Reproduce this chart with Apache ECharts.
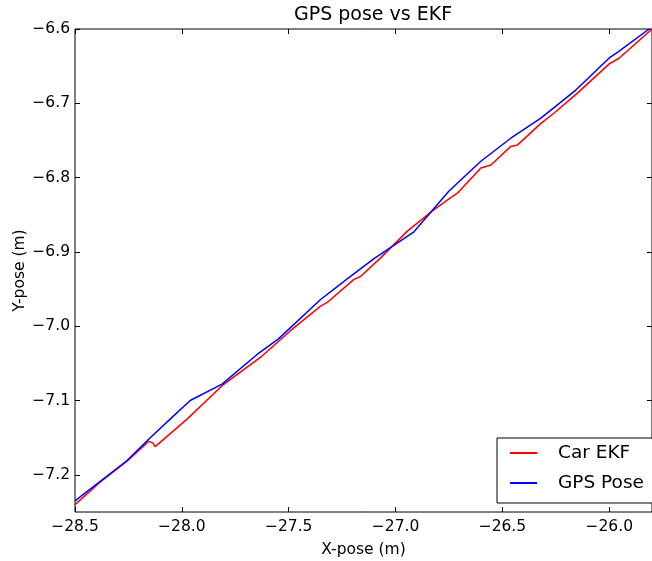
<!DOCTYPE html>
<html>
<head>
<meta charset="utf-8">
<script src="https://cdn.jsdelivr.net/npm/echarts@6/dist/echarts.min.js"></script>
<style>
  html, body { margin: 0; padding: 0; background: #fff; }
  #chart { width: 652px; height: 561px; }
</style>
</head>
<body>
<div id="chart"></div>
<script>
// Car EKF estimate (x, y in metres)
const ekfX = [-28.5, -28.383, -28.258, -28.156, -28.136, -28.125, -27.976, -27.812, -27.633, -27.492,
              -27.351, -27.320, -27.195, -27.164, -27.070, -26.945, -26.820, -26.742, -26.711, -26.601,
              -26.554, -26.461, -26.429, -26.320, -26.258, -26.148, -26.0, -25.953, -25.8];
const ekfY = [-7.240, -7.210, -7.182, -7.155, -7.157, -7.162, -7.125, -7.080, -7.042, -7.006,
              -6.973, -6.968, -6.937, -6.933, -6.908, -6.872, -6.843, -6.827, -6.821, -6.787,
              -6.783, -6.758, -6.756, -6.727, -6.713, -6.686, -6.647, -6.639, -6.600];

// GPS pose fixes (x, y in metres)
const gpsX = [-28.5, -28.258, -28.148, -28.055, -27.961, -27.812, -27.648, -27.548, -27.351, -27.211,
              -27.101, -26.914, -26.750, -26.601, -26.461, -26.320, -26.164, -26.0, -25.960, -25.814];
const gpsY = [-7.235, -7.181, -7.150, -7.125, -7.100, -7.078, -7.038, -7.017, -6.964, -6.933,
              -6.909, -6.873, -6.818, -6.778, -6.747, -6.720, -6.684, -6.639, -6.631, -6.600];

const xTicks = [-28.5, -28.0, -27.5, -27.0, -26.5, -26.0];
const yTicks = [-7.2, -7.1, -7.0, -6.9, -6.8, -6.7, -6.6];

const FONT = 'DejaVu Sans';
const pairs = (xs, ys) => xs.map((x, i) => [x, ys[i]]);
const fmt = v => (v < 0 ? '\u2212' : '') + Math.abs(v).toFixed(1);

const xRange = { min: -28.5, max: -25.8 };
const yRange = { min: -7.25, max: -6.6 };

const tickStyle = { inside: true, length: 5, lineStyle: { color: '#000', width: 1 } };

const chart = echarts.init(document.getElementById('chart'), null, { renderer: 'canvas' });
chart.setOption({
  animation: false,
  backgroundColor: '#fff',
  title: {
    text: 'GPS pose vs EKF',
    left: 289, top: 1,
    textStyle: { fontFamily: FONT, fontSize: 19, fontWeight: 'normal', color: '#000' }
  },
  grid: {
    left: 75, right: 0, top: 29, bottom: 49,
    outerBoundsMode: 'none', containLabel: false,
    show: true, borderColor: '#000', borderWidth: 1, backgroundColor: '#fff'
  },
  xAxis: [
    {
      type: 'value', position: 'bottom', ...xRange,
      name: 'X-pose (m)', nameLocation: 'middle', nameGap: 30, nameMoveOverlap: false,
      nameTextStyle: { fontFamily: FONT, fontSize: 15.5, color: '#000' },
      axisLine: { show: false },
      axisTick: { ...tickStyle, customValues: xTicks },
      axisLabel: { customValues: xTicks, formatter: fmt, margin: 7,
                   fontFamily: FONT, fontSize: 15.5, color: '#000' },
      splitLine: { show: false }
    },
    {
      type: 'value', position: 'top', ...xRange,
      axisLine: { show: false },
      axisTick: { ...tickStyle, customValues: xTicks },
      axisLabel: { show: false },
      splitLine: { show: false }
    }
  ],
  yAxis: [
    {
      type: 'value', position: 'left', ...yRange,
      name: 'Y-pose (m)', nameLocation: 'middle', nameGap: 47, nameMoveOverlap: false,
      nameTextStyle: { fontFamily: FONT, fontSize: 15.5, color: '#000' },
      axisLine: { show: false },
      axisTick: { ...tickStyle, customValues: yTicks },
      axisLabel: { customValues: yTicks, formatter: fmt, margin: 5,
                   fontFamily: FONT, fontSize: 15.5, color: '#000' },
      splitLine: { show: false }
    },
    {
      type: 'value', position: 'right', ...yRange,
      axisLine: { show: false },
      axisTick: { ...tickStyle, customValues: yTicks },
      axisLabel: { show: false },
      splitLine: { show: false }
    }
  ],
  legend: {
    orient: 'vertical',
    left: 497, top: 438,
    padding: [5, 30, 10, 13],
    itemGap: 10,
    itemWidth: 27, itemHeight: 2,
    icon: 'rect',
    backgroundColor: '#fff',
    borderColor: '#000', borderWidth: 1, borderRadius: 0,
    textStyle: { fontFamily: FONT, fontSize: 18.5, color: '#000', padding: [0, 0, 0, 16], lineHeight: 20 },
    data: ['Car EKF', 'GPS Pose']
  },
  series: [
    {
      name: 'Car EKF', type: 'line', data: pairs(ekfX, ekfY),
      showSymbol: false, symbol: 'none',
      lineStyle: { color: '#ff0000', width: 1.5 }, itemStyle: { color: '#ff0000' },
      z: 2
    },
    {
      name: 'GPS Pose', type: 'line', data: pairs(gpsX, gpsY),
      showSymbol: false, symbol: 'none',
      lineStyle: { color: '#0000ff', width: 1.5 }, itemStyle: { color: '#0000ff' },
      z: 3
    }
  ]
});
</script>
</body>
</html>
